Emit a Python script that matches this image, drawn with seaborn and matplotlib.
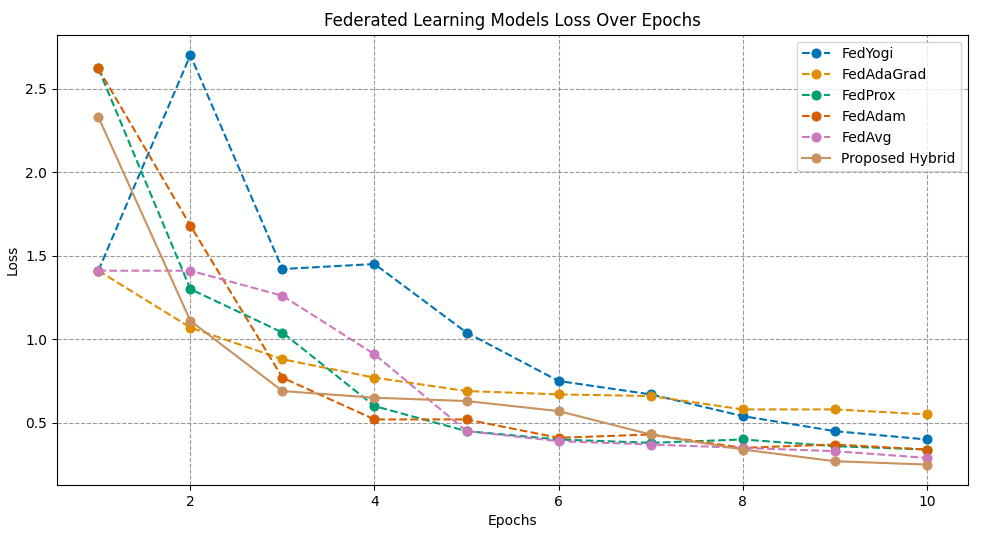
import matplotlib
matplotlib.use("Agg")
import matplotlib.pyplot as plt
import seaborn as sns
import pandas as pd

epochs = list(range(1, 11))
fedyogi = [1.41, 2.70, 1.42, 1.45, 1.04, 0.75, 0.67, 0.54, 0.45, 0.40]
fedadagrad = [1.41, 1.07, 0.88, 0.77, 0.69, 0.67, 0.66, 0.58, 0.58, 0.55]
fedprox = [2.62, 1.30, 1.04, 0.60, 0.45, 0.40, 0.38, 0.40, 0.36, 0.34]
fedadam = [2.62, 1.68, 0.77, 0.52, 0.52, 0.41, 0.43, 0.35, 0.37, 0.34]
fedavg = [1.41, 1.41, 1.26, 0.91, 0.45, 0.39, 0.37, 0.35, 0.33, 0.29]
hybrid = [2.33, 1.11, 0.69, 0.65, 0.63, 0.57, 0.43, 0.34, 0.27, 0.25]

series = {
    "FedYogi": fedyogi,
    "FedAdaGrad": fedadagrad,
    "FedProx": fedprox,
    "FedAdam": fedadam,
    "FedAvg": fedavg,
    "Proposed Hybrid": hybrid,
}

colors = sns.color_palette("colorblind")
fig, ax = plt.subplots(figsize=(9.81, 5.33), dpi=100)

for i, (name, vals) in enumerate(series.items()):
    df = pd.DataFrame({"Epochs": epochs, "Loss": vals})
    style = "-" if name == "Proposed Hybrid" else "--"
    sns.lineplot(data=df, x="Epochs", y="Loss", ax=ax, color=colors[i], marker="o",
                 markersize=6.5, markeredgecolor=colors[i], linestyle=style,
                 linewidth=1.5, label=name)

ax.grid(True, linestyle="--", color="gray", alpha=0.8)
ax.set_title("Federated Learning Models Loss Over Epochs")
ax.set_xlabel("Epochs")
ax.set_ylabel("Loss")
ax.legend(loc="upper right")
fig.subplots_adjust(left=0.058, right=0.987, top=0.935, bottom=0.09)
fig.savefig("out.png", dpi=100)
